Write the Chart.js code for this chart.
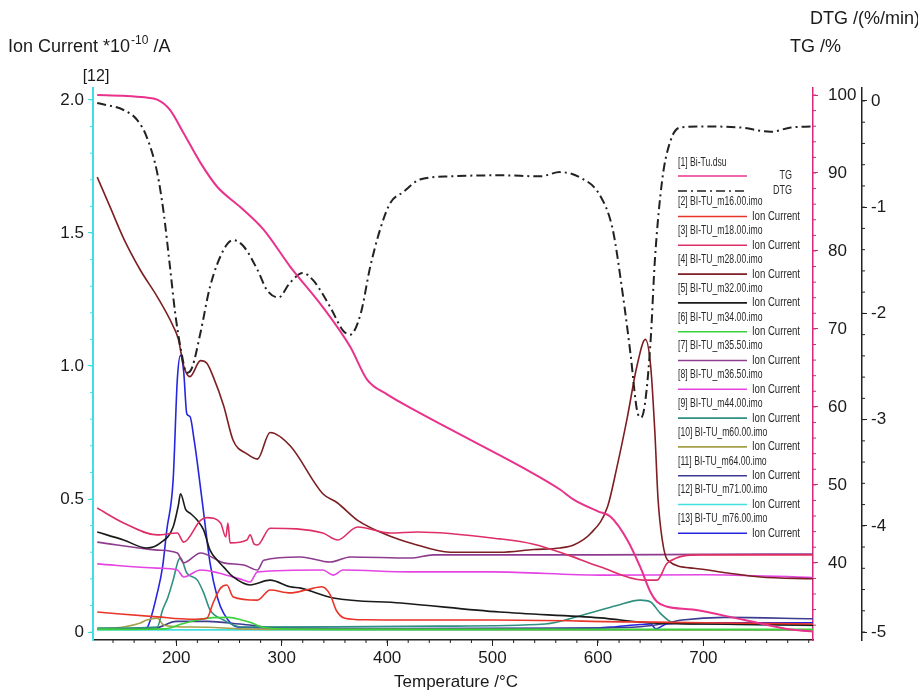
<!DOCTYPE html>
<html>
<head>
<meta charset="utf-8">
<script src="https://cdn.jsdelivr.net/npm/chart.js@4.4.0/dist/chart.umd.min.js"></script>
<style>
html, body { margin: 0; padding: 0; background: #fff; }
#wrap { position: relative; width: 918px; height: 691px; }
</style>
</head>
<body>
<div id="wrap"><canvas id="chart"></canvas></div>
<script>
// --- Datos (T en °C) ---
const xTicks = [200, 300, 400, 500, 600, 700];
const ionTicks = [0, 0.5, 1.0, 1.5, 2.0];
const tgTicks = [40, 50, 60, 70, 80, 90, 100];
const dtgTicks = [-5, -4, -3, -2, -1, 0];

const tTG = [125, 150, 170, 182, 194, 207, 223, 239, 261, 283, 308, 339, 365, 381, 400, 430, 480, 530, 564, 577, 600, 612, 628, 640, 650, 656, 665, 690, 738, 785, 804];
const tgVals = [100, 99.9, 99.7, 99.4, 98.1, 95.1, 91.3, 88.2, 85.6, 82.7, 78.0, 72.8, 67.7, 63.5, 61.6, 59.3, 55.7, 52.1, 49.4, 48.1, 46.6, 45.9, 42.9, 39.5, 36.2, 35.0, 34.4, 34.0, 32.7, 31.4, 31.2];

const tDTG = [125, 150, 163, 172, 182, 188, 194, 199, 204, 210, 215, 223, 232, 245, 254, 264, 277, 286, 297, 308, 320, 330, 346, 358, 365, 375, 384, 394, 403, 415, 431, 460, 507, 545, 564, 583, 602, 614, 623, 631, 637, 641, 645, 650, 654, 661, 669, 678, 697, 735, 764, 783, 804];
const dtgVals = [-0.02, -0.085, -0.18, -0.34, -0.68, -1.05, -1.56, -2.0, -2.32, -2.56, -2.51, -2.18, -1.75, -1.40, -1.31, -1.37, -1.59, -1.78, -1.85, -1.71, -1.62, -1.69, -1.94, -2.16, -2.2, -2.0, -1.56, -1.19, -0.96, -0.86, -0.74, -0.71, -0.70, -0.71, -0.67, -0.72, -0.89, -1.21, -1.78, -2.39, -2.91, -2.98, -2.82, -2.25, -1.50, -0.74, -0.37, -0.25, -0.24, -0.25, -0.29, -0.25, -0.24];

const tM16 = [125, 182, 213, 229, 235, 242, 248, 254, 277, 289, 308, 325, 338, 346, 352, 360, 380, 422, 500, 633, 700, 804];
const m16 = [0.075, 0.057, 0.048, 0.052, 0.11, 0.165, 0.177, 0.132, 0.12, 0.158, 0.147, 0.16, 0.17, 0.14, 0.08, 0.052, 0.046, 0.045, 0.045, 0.038, 0.035, 0.03];

const tM18 = [125, 150, 182, 201, 207, 223, 229, 242, 247, 249, 251, 267, 270, 274, 277, 289, 339, 353, 372, 403, 429, 507, 539, 571, 602, 643, 656, 666, 697, 750, 804];
const m18 = [0.466, 0.41, 0.365, 0.372, 0.338, 0.42, 0.43, 0.41, 0.357, 0.41, 0.335, 0.346, 0.365, 0.33, 0.327, 0.39, 0.372, 0.346, 0.395, 0.372, 0.376, 0.35, 0.33, 0.29, 0.245, 0.195, 0.195, 0.26, 0.29, 0.29, 0.29];

const tM28 = [125, 137, 150, 166, 182, 197, 202, 207, 213, 223, 229, 235, 245, 254, 267, 277, 289, 308, 339, 353, 372, 403, 422, 460, 507, 539, 564, 577, 593, 609, 618, 628, 637, 645, 650, 654, 657, 661, 666, 691, 723, 754, 804];
const m28 = [1.71, 1.60, 1.48, 1.36, 1.26, 1.15, 1.10, 1.00, 0.96, 1.02, 1.01, 0.96, 0.85, 0.72, 0.67, 0.65, 0.75, 0.70, 0.52, 0.485, 0.42, 0.36, 0.335, 0.30, 0.30, 0.31, 0.316, 0.327, 0.37, 0.47, 0.62, 0.81, 1.0, 1.1, 1.0, 0.75, 0.5, 0.346, 0.27, 0.24, 0.222, 0.207, 0.20];

const tM32 = [125, 150, 172, 185, 197, 202, 204, 209, 213, 220, 226, 232, 239, 245, 254, 270, 289, 308, 318, 349, 413, 507, 602, 650, 700, 804];
const m32 = [0.376, 0.346, 0.316, 0.335, 0.395, 0.477, 0.52, 0.46, 0.447, 0.42, 0.383, 0.308, 0.27, 0.244, 0.207, 0.177, 0.195, 0.17, 0.165, 0.128, 0.109, 0.075, 0.053, 0.034, 0.03, 0.026];

const tM34 = [125, 190, 205, 220, 235, 250, 262, 270, 280, 300, 400, 804];
const m34 = [0.01, 0.012, 0.03, 0.045, 0.054, 0.055, 0.045, 0.037, 0.02, 0.012, 0.01, 0.01];

const tM355 = [125, 182, 201, 207, 223, 245, 264, 277, 283, 318, 346, 365, 422, 444, 500, 600, 700, 804];
const m355 = [0.338, 0.308, 0.297, 0.26, 0.297, 0.26, 0.252, 0.233, 0.27, 0.282, 0.263, 0.282, 0.278, 0.29, 0.29, 0.29, 0.292, 0.293];

const tM365 = [125, 182, 201, 207, 223, 240, 264, 270, 277, 339, 349, 358, 422, 500, 602, 700, 804];
const m365 = [0.256, 0.24, 0.233, 0.207, 0.233, 0.222, 0.195, 0.188, 0.226, 0.233, 0.214, 0.233, 0.226, 0.226, 0.214, 0.215, 0.205];

const tM44 = [125, 182, 187, 192, 197, 202, 204, 210, 220, 226, 232, 245, 261, 350, 450, 550, 586, 618, 640, 650, 659, 672, 700, 804];
const m44 = [0.015, 0.019, 0.083, 0.13, 0.195, 0.27, 0.278, 0.222, 0.195, 0.147, 0.083, 0.045, 0.019, 0.02, 0.022, 0.03, 0.064, 0.1, 0.12, 0.113, 0.071, 0.034, 0.03, 0.025];

const tM60 = [125, 150, 166, 172, 182, 188, 200, 230, 260, 300, 804];
const m60 = [0.012, 0.019, 0.034, 0.045, 0.052, 0.026, 0.02, 0.018, 0.012, 0.01, 0.008];

const tM64 = [125, 180, 200, 230, 260, 300, 400, 600, 640, 660, 680, 720, 804];
const m64 = [0.012, 0.015, 0.04, 0.04, 0.03, 0.015, 0.012, 0.015, 0.02, 0.03, 0.045, 0.055, 0.05];

const tM71 = [125, 400, 804];
const m71 = [0.008, 0.008, 0.007];

const tM76 = [125, 170, 173, 182, 187, 191, 197, 201, 204, 207, 210, 213, 217, 220, 226, 232, 239, 245, 258, 300, 400, 500, 600, 617, 640, 650, 655, 665, 700, 804];
const m76 = [0.012, 0.012, 0.02, 0.147, 0.245, 0.383, 0.57, 0.95, 1.04, 0.98, 0.82, 0.81, 0.72, 0.635, 0.447, 0.26, 0.13, 0.07, 0.019, 0.015, 0.013, 0.013, 0.015, 0.02, 0.028, 0.03, 0.012, 0.03, 0.035, 0.035];

const ionNames = ['[2] BI-TU_m16.00.imo', '[3] BI-TU_m18.00.imo', '[4] BI-TU_m28.00.imo', '[5] BI-TU_m32.00.imo',
    '[6] BI-TU_m34.00.imo', '[7] BI-TU_m35.50.imo', '[8] BI-TU_m36.50.imo', '[9] BI-TU_m44.00.imo',
    '[10] BI-TU_m60.00.imo', '[11] BI-TU_m64.00.imo', '[12] BI-TU_m71.00.imo', '[13] BI-TU_m76.00.imo'];

const fontFam = '"Liberation Sans", Arial, sans-serif';

function pts(ts, vs) {
    return ts.map((t, i) => ({ x: t, y: vs[i] }));
}

function ionSet(name, ts, vs, color) {
    return {
        label: name, data: pts(ts, vs), yAxisID: 'yI', borderColor: color,
        borderWidth: 1.6, pointRadius: 0, cubicInterpolationMode: 'monotone'
    };
}

const datasets = [
    { label: 'TG', data: pts(tTG, tgVals), yAxisID: 'yTG', borderColor: '#e8328c', borderWidth: 2, pointRadius: 0, cubicInterpolationMode: 'monotone' },
    { label: 'DTG', data: pts(tDTG, dtgVals), yAxisID: 'yDTG', borderColor: '#222222', borderWidth: 2, borderDash: [9, 4, 2, 4], pointRadius: 0, cubicInterpolationMode: 'monotone' },
    ionSet(ionNames[0], tM16, m16, '#e8352a'),
    ionSet(ionNames[1], tM18, m18, '#dd2f66'),
    ionSet(ionNames[2], tM28, m28, '#7d1e22'),
    ionSet(ionNames[3], tM32, m32, '#1a1a1a'),
    ionSet(ionNames[4], tM34, m34, '#3ad13a'),
    ionSet(ionNames[5], tM355, m355, '#8e3c8e'),
    ionSet(ionNames[6], tM365, m365, '#e444e4'),
    ionSet(ionNames[7], tM44, m44, '#2f8f80'),
    ionSet(ionNames[8], tM60, m60, '#a4a04a'),
    ionSet(ionNames[9], tM64, m64, '#3c3c90'),
    ionSet(ionNames[10], tM71, m71, '#44e0e0'),
    ionSet(ionNames[11], tM76, m76, '#2626e0')
];

// --- Plugins de dibujo (títulos, ticks menores, leyenda) ---
const minorSteps = { x: 20, yI: 0.1, yTG: 2, yDTG: 0.2 };

const minorTicks = {
    id: 'minorTicks',
    afterDraw(chart) {
        const ctx = chart.ctx;
        ctx.save();
        ctx.lineWidth = 1;
        Object.keys(minorSteps).forEach(id => {
            const s = chart.scales[id];
            const step = minorSteps[id];
            const start = Math.ceil(s.min / step) * step;
            ctx.strokeStyle = id === 'yI' ? '#40dcdc' : (id === 'yTG' ? '#d4287e' : '#222');
            for (let v = start; v <= s.max + 1e-9; v += step) {
                const p = s.getPixelForValue(v);
                ctx.beginPath();
                if (id === 'x') { ctx.moveTo(p, s.top); ctx.lineTo(p, s.top + 3); }
                else if (id === 'yI') { ctx.moveTo(s.right, p); ctx.lineTo(s.right - 3, p); }
                else { ctx.moveTo(s.left, p); ctx.lineTo(s.left + 3, p); }
                ctx.stroke();
            }
        });
        ctx.restore();
    }
};

// texto estrecho: la fuente Narrow no está, se comprime en horizontal
function narrowText(ctx, text, x, y, size, align, sx) {
    ctx.save();
    ctx.font = size + 'px ' + fontFam;
    ctx.textAlign = 'left';
    const w = ctx.measureText(text).width * sx;
    const left = align === 'right' ? x - w : x;
    ctx.translate(left, y);
    ctx.scale(sx, 1);
    ctx.fillText(text, 0, 0);
    ctx.restore();
}

const titles = {
    id: 'titles',
    afterDraw(chart) {
        const ctx = chart.ctx;
        ctx.save();
        ctx.fillStyle = '#1a1a1a';
        ctx.textBaseline = 'alphabetic';
        ctx.textAlign = 'left';
        ctx.font = '18px ' + fontFam;
        let x = 8;
        ctx.fillText('Ion Current *10', x, 52);
        x += ctx.measureText('Ion Current *10').width;
        ctx.font = '12px ' + fontFam;
        ctx.fillText('-10', x + 1, 44);
        x += ctx.measureText('-10').width + 1;
        ctx.font = '18px ' + fontFam;
        ctx.fillText(' /A', x, 52);

        ctx.font = '16px ' + fontFam;
        ctx.textAlign = 'center';
        ctx.fillText('[12]', 96, 81);
        ctx.font = '17px ' + fontFam;
        ctx.fillText('Temperature /\u00B0C', 456, 687);

        ctx.textAlign = 'left';
        ctx.font = '18px ' + fontFam;
        ctx.fillText('DTG /(%/min)', 810, 24);
        ctx.fillText('TG /%', 790, 52);
        ctx.restore();
    }
};

const fileLegend = {
    id: 'fileLegend',
    afterDraw(chart) {
        const ctx = chart.ctx;
        const ds = chart.data.datasets;
        const x0 = 678, lineEnd = 747, right = 800;
        ctx.save();
        ctx.textBaseline = 'middle';
        ctx.fillStyle = '#2a2a2a';
        ctx.lineWidth = 1.6;

        const sample = (y, d) => {
            ctx.strokeStyle = d.borderColor;
            ctx.setLineDash(d.borderDash || []);
            ctx.beginPath();
            ctx.moveTo(x0, y);
            ctx.lineTo(lineEnd, y);
            ctx.stroke();
            ctx.setLineDash([]);
        };

        narrowText(ctx, '[1] Bi-Tu.dsu', x0, 163, 12, 'left', 0.72);
        sample(176, ds[0]);
        sample(191, ds[1]);
        narrowText(ctx, 'TG', 792, 176, 12, 'right', 0.75);
        narrowText(ctx, 'DTG', 792, 191, 12, 'right', 0.75);

        for (let i = 2; i < ds.length; i++) {
            const y = 202 + (i - 2) * 28.8;
            narrowText(ctx, ds[i].label, x0, y, 12, 'left', 0.72);
            sample(y + 14.5, ds[i]);
            narrowText(ctx, 'Ion Current', right, y + 14.5, 13, 'right', 0.74);
        }
        ctx.restore();
    }
};

function fixedTicks(values) {
    return scale => { scale.ticks = values.map(v => ({ value: v })); };
}

const tickFont = { family: fontFam, size: 17 };

new Chart(document.getElementById('chart'), {
    type: 'line',
    data: { datasets },
    options: {
        responsive: true,
        maintainAspectRatio: false,
        animation: false,
        layout: { padding: { top: 88, left: 0, right: 0, bottom: 0 } },
        plugins: { legend: { display: false }, tooltip: { enabled: false } },
        scales: {
            x: {
                type: 'linear', position: 'bottom', min: 121, max: 804,
                afterBuildTicks: fixedTicks(xTicks),
                afterFit: s => { s.height = 51; },
                grid: { drawOnChartArea: false, tickLength: 6, color: '#222' },
                border: { color: '#222', width: 1.5 },
                ticks: { font: tickFont, color: '#1a1a1a', padding: 2, maxRotation: 0, callback: v => String(v) }
            },
            yI: {
                type: 'linear', position: 'left', min: -0.03, max: 2.045,
                afterBuildTicks: fixedTicks(ionTicks),
                afterFit: s => { s.width = 93; },
                grid: { drawOnChartArea: false, tickLength: 5, color: '#40dcdc' },
                border: { color: '#40e0e0', width: 2 },
                ticks: { font: tickFont, color: '#1a1a1a', padding: 4, callback: v => v === 0 ? '0' : v.toFixed(1) }
            },
            yTG: {
                type: 'linear', position: 'right', weight: 1, min: 30.1, max: 100.9,
                afterBuildTicks: fixedTicks(tgTicks),
                afterFit: s => { s.width = 49; },
                grid: { drawOnChartArea: false, tickLength: 5, color: '#d4287e' },
                border: { color: '#d4287e', width: 1.5 },
                ticks: { font: tickFont, color: '#1a1a1a', padding: 10, callback: v => String(v) }
            },
            yDTG: {
                type: 'linear', position: 'right', weight: 2, min: -5.075, max: 0.122,
                afterBuildTicks: fixedTicks(dtgTicks),
                afterFit: s => { s.width = 56; },
                grid: { drawOnChartArea: false, tickLength: 5, color: '#222' },
                border: { color: '#222', width: 1.5 },
                ticks: { font: tickFont, color: '#1a1a1a', padding: 4, callback: v => String(v) }
            }
        }
    },
    plugins: [minorTicks, titles, fileLegend]
});
</script>
</body>
</html>
